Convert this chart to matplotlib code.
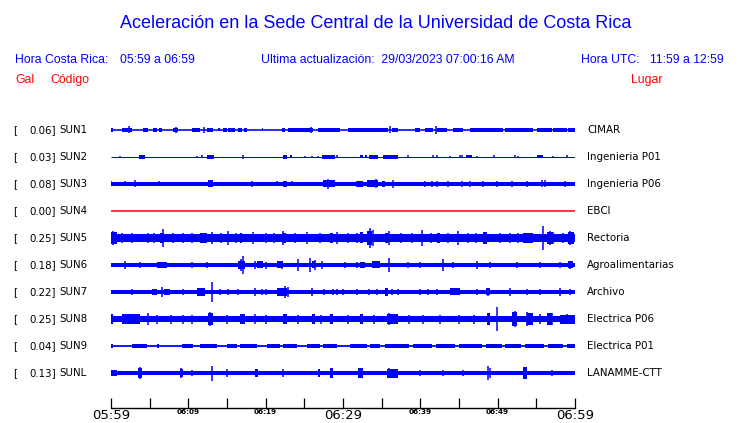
import matplotlib
matplotlib.use('Agg')
import matplotlib.pyplot as plt

# station info
gal = ['0.06', '0.03', '0.08', '0.00', '0.25', '0.18', '0.22', '0.25', '0.04', '0.13']
codes = ['SUN1', 'SUN2', 'SUN3', 'SUN4', 'SUN5', 'SUN6', 'SUN7', 'SUN8', 'SUN9', 'SUNL']
places = ['CIMAR', 'Ingenieria P01', 'Ingenieria P06', 'EBCI', 'Rectoria',
          'Agroalimentarias', 'Archivo', 'Electrica P06', 'Electrica P01', 'LANAMME-CTT']

# trace envelopes (time in minutes after 05:59)
# base = half width of the continuous noise band
base = [0.8, 0.5, 2.2, 0.0, 4.0, 2.3, 2.3, 3.3, 0.9, 2.3]

# blocks: (start, end, half amplitude)
blocks = [
    [(0.0, 0.2, 2), (1.4, 2.7, 2), (4.1, 4.8, 1.8), (5.4, 5.9, 1.8), (6.2, 6.6, 1.8),
     (8.0, 8.7, 2.2), (10.5, 11.5, 1.8), (12.4, 13.2, 1.8), (13.8, 14.1, 1.5),
     (14.5, 15.0, 1.8), (15.1, 16.0, 2), (16.4, 16.9, 2), (17.2, 17.6, 2),
     (19.5, 19.7, 1.5), (22.1, 22.5, 1.8), (22.9, 26.1, 2), (26.8, 29.6, 2),
     (30.6, 35.8, 2), (36.3, 37.1, 2), (39.3, 40.0, 1.8), (40.6, 41.6, 1.8),
     (42.2, 43.4, 1.8), (44.2, 45.5, 1.8), (46.4, 50.7, 2), (50.9, 54.6, 2),
     (55.1, 57.0, 2), (57.2, 59.0, 2), (59.1, 60.0, 2)],
    [(3.6, 4.4, 2.2), (12.4, 13.3, 2.2), (22.2, 22.8, 1.8), (23.1, 23.4, 1.5),
     (27.3, 29.0, 1.8), (32.2, 32.6, 1.5), (32.8, 33.1, 1.5), (33.4, 34.5, 1.8),
     (35.2, 37.1, 1.8), (45.9, 46.7, 1.5), (55.1, 55.9, 1.5)],
    [(12.5, 13.2, 3.5), (22.2, 22.8, 3), (27.4, 29.0, 3.5), (31.8, 32.6, 3),
     (33.1, 34.5, 3.5), (35.0, 35.4, 3)],
    [],
    [(0.0, 0.8, 6), (6.3, 6.9, 5), (11.5, 12.4, 5), (16.7, 17.0, 5), (22.2, 22.6, 5),
     (28.3, 28.7, 5), (32.2, 32.6, 5.5), (33.1, 33.8, 7), (35.4, 35.8, 5),
     (42.2, 42.6, 5), (48.1, 48.6, 6), (53.3, 54.6, 5), (56.4, 57.2, 6), (59.1, 59.9, 6)],
    [(5.9, 7.2, 3), (16.4, 17.3, 4), (18.9, 19.7, 3.5), (21.5, 22.2, 3.5),
     (26.0, 26.4, 3.5), (32.2, 32.8, 3), (33.8, 34.8, 3.5), (59.1, 59.7, 3.5)],
    [(5.3, 5.9, 3), (6.9, 7.6, 3), (11.1, 12.2, 4), (21.5, 22.8, 4), (35.4, 35.8, 4),
     (43.8, 45.1, 3.5), (48.5, 49.0, 3.5)],
    [(0.0, 0.3, 5), (1.4, 3.7, 5), (12.5, 13.2, 6), (16.7, 17.3, 5), (22.2, 22.8, 5),
     (26.0, 26.4, 5), (28.3, 28.7, 5), (32.2, 32.6, 5), (35.7, 37.1, 5),
     (48.6, 49.0, 6), (51.9, 52.5, 7), (53.8, 54.6, 6), (56.4, 57.0, 6), (58.0, 60.0, 4.5)],
    [(0.0, 0.3, 1.6), (2.7, 4.7, 1.6), (5.9, 6.2, 1.6), (9.2, 10.6, 1.6),
     (11.5, 13.7, 1.6), (15.0, 16.3, 1.6), (16.7, 18.9, 1.6), (20.2, 21.9, 1.6),
     (22.2, 24.1, 1.6), (25.3, 27.0, 1.6), (27.4, 29.2, 1.6), (30.9, 33.1, 1.6),
     (33.5, 34.8, 1.6), (35.4, 38.5, 1.6), (39.0, 41.5, 1.6), (42.0, 44.5, 1.6),
     (45.0, 48.0, 1.6), (48.5, 50.5, 1.6), (51.0, 53.0, 1.6), (53.5, 56.0, 1.6),
     (56.5, 58.5, 1.6), (59.0, 60.0, 1.6)],
    [(0.0, 0.8, 3), (3.5, 4.0, 5), (8.9, 9.3, 4), (18.6, 19.0, 4), (26.8, 27.0, 4),
     (28.3, 28.7, 5), (31.9, 32.6, 5), (35.7, 37.1, 4.5), (53.3, 53.8, 6)],
]

# spikes: (time, half amplitude)
spikes = [
    [(2.3, 3.5), (8.4, 3), (12.0, 3.0), (25.9, 2.8), (36.1, 3.5), (42.0, 4.0)],
    [(1.2, 1.2), (4.1, 1.2), (11.1, 1.2), (11.8, 1.5), (17.1, 1.8), (25.1, 1.2),
     (26.0, 1.2), (26.8, 1.2), (29.2, 1.5), (38.4, 1.5), (41.6, 1.5), (42.2, 1.5),
     (43.8, 1.2), (45.1, 1.5), (45.4, 1.5), (47.3, 1.2), (49.5, 1.5), (52.2, 1.5),
     (52.6, 1.2), (57.2, 1.2), (59.0, 1.5)],
    [(0.0, 2.5), (1.8, 2.5), (3.1, 3.5), (6.2, 2.5), (7.6, 2.2), (18.2, 3), (21.5, 2.5),
     (22.5, 3), (23.4, 2.5), (28.1, 5), (31.8, 3), (34.3, 4.5), (36.5, 4), (40.6, 3),
     (41.5, 3), (42.2, 3), (43.6, 3), (45.4, 3), (46.4, 3), (48.1, 3), (49.9, 3),
     (51.9, 3), (53.8, 3), (55.7, 3.5), (56.1, 3.5), (58.7, 3)],
    [],
    [(0.3, 7), (1.4, 5), (2.7, 5), (4.8, 5), (5.6, 5), (6.7, 9), (8.0, 5), (9.3, 5),
     (10.5, 5), (13.1, 6), (14.2, 5), (15.1, 7), (16.2, 5), (18.4, 6), (20.0, 5),
     (21.1, 5), (22.2, 7), (23.8, 5), (25.3, 6), (27.0, 5), (29.2, 6), (30.6, 5),
     (31.8, 5), (33.5, 10), (33.9, 8), (35.9, 7), (37.5, 5), (38.9, 5), (40.2, 8),
     (41.4, 5), (43.6, 5), (44.9, 7), (46.2, 5), (47.2, 5), (48.5, 6), (50.3, 5),
     (51.6, 5), (52.6, 5), (55.9, 12), (56.8, 7), (57.2, 6), (58.4, 5), (59.4, 7)],
    [(1.8, 4), (3.7, 3), (10.5, 2.8), (12.4, 3), (16.8, 6), (17.1, 9), (18.6, 4),
     (20.0, 3.5), (22.1, 4), (24.2, 6), (25.7, 7), (26.4, 5), (27.3, 4), (30.3, 3),
     (31.8, 3), (35.9, 7), (38.4, 3), (40.0, 3), (42.9, 6), (44.2, 3), (47.3, 4),
     (49.0, 3), (52.5, 3), (55.5, 3), (58.1, 3), (59.4, 4)],
    [(2.7, 3), (6.6, 5), (9.3, 3), (13.1, 10), (14.1, 3), (15.1, 3), (16.4, 3),
     (18.6, 4), (19.5, 3), (20.0, 3), (22.5, 6), (22.9, 5), (26.0, 4), (27.5, 3),
     (28.7, 3), (29.2, 3), (30.0, 3), (31.8, 3), (33.4, 3), (34.4, 3), (36.3, 3),
     (37.1, 3), (40.0, 3), (41.0, 3), (42.2, 3), (47.3, 3), (48.7, 4), (51.6, 4),
     (53.8, 3), (55.5, 3), (58.1, 4), (59.4, 3)],
    [(4.8, 6), (6.0, 4.5), (7.7, 4.5), (9.3, 4.5), (10.5, 4.5), (12.8, 7), (15.0, 4.5),
     (18.6, 5), (20.0, 4.5), (24.2, 4.5), (27.2, 4.5), (30.6, 4.5), (34.0, 4.5),
     (35.9, 6), (38.5, 4.5), (40.4, 4.5), (42.5, 4.5), (45.0, 4.5), (47.0, 4.5),
     (49.9, 12), (52.2, 8), (53.8, 7), (55.5, 5), (57.0, 6), (59.0, 5)],
    [],
    [(3.7, 6), (9.1, 5), (10.5, 3), (13.1, 7.5), (15.0, 4), (22.2, 4), (26.9, 4),
     (28.5, 5), (32.2, 5), (35.9, 5), (37.0, 4), (40.0, 3), (42.9, 3), (45.5, 3),
     (48.7, 7), (49.0, 5), (53.5, 6), (57.0, 3)],
]

tick_minutes = list(range(0, 61, 5))
tick_labels = ['05:59', '', '06:09', '', '06:19', '', '06:29', '', '06:39', '', '06:49', '', '06:59']
big_labels = ['05:59', '06:29', '06:59']

blue = '#0000ff'
red = '#ff0000'
row_step = 27.0
row_top = 12.0

W, H = 740, 423
fig = plt.figure(figsize=(W / 100, H / 100), dpi=100)
ax = fig.add_axes([111 / W, (H - 408) / H, 464 / W, 290 / H])
ax.set_xlim(0, 60)
ax.set_ylim(290, 0)

for i in range(len(codes)):
    yc = row_top + row_step * i
    # a dead channel (no signal at all) is drawn as a flat red line
    if base[i] == 0 and not blocks[i] and not spikes[i]:
        ax.hlines(yc, 0, 60, color=red, linewidth=1.1)
        continue
    if base[i] < 1.0:
        ax.hlines(yc, 0, 60, color=blue, linewidth=max(2 * base[i], 1.0) * 0.72)
    else:
        ax.fill_between([0, 60], yc - base[i], yc + base[i], color=blue, linewidth=0)
    for t0, t1, a in blocks[i]:
        ax.fill_between([t0, t1], yc - a, yc + a, color=blue, linewidth=0)
    for t, a in spikes[i]:
        ax.vlines(t, yc - a, yc + a, color=blue, linewidth=1.1)

for i in range(len(codes)):
    # labels on both sides
    ty = 1 - (row_top + row_step * i + 118) / H
    fig.text(13 / W, ty, '[', fontsize=7.4, va='center', ha='left')
    fig.text(56 / W, ty, gal[i] + ']', fontsize=7.4, va='center', ha='right')
    fig.text(59 / W, ty, codes[i], fontsize=7.4, va='center', ha='left')
    fig.text(587 / W, ty, places[i], fontsize=7.4, va='center', ha='left')

for s in ['top', 'left', 'right']:
    ax.spines[s].set_visible(False)
ax.spines['bottom'].set_linewidth(1.0)
ax.set_yticks([])
ax.set_xticks(tick_minutes)
ax.set_xticklabels(tick_labels)
ax.tick_params(axis='x', direction='in', length=7.5, width=0.9, pad=1)
for lbl in ax.get_xticklabels():
    if lbl.get_text() in big_labels:
        lbl.set_fontsize(9.5)
    else:
        lbl.set_fontsize(5.2)
        lbl.set_fontweight('bold')

# header texts
hdr = 'Liberation Sans'
hs = 8.8
fig.text(376 / W, 1 - 23 / H, 'Aceleración en la Sede Central de la Universidad de Costa Rica',
         color=blue, fontsize=13, family=hdr, ha='center', va='center')
fig.text(15 / W, 1 - 60 / H, 'Hora Costa Rica:', color=blue, fontsize=hs,
         family=hdr, ha='left', va='center')
fig.text(120 / W, 1 - 60 / H, '05:59 a 06:59', color=blue, fontsize=hs,
         family=hdr, ha='left', va='center')
fig.text(261 / W, 1 - 60 / H, 'Ultima actualización:  29/03/2023 07:00:16 AM', color=blue,
         fontsize=hs, family=hdr, ha='left', va='center')
fig.text(581 / W, 1 - 60 / H, 'Hora UTC:', color=blue, fontsize=hs,
         family=hdr, ha='left', va='center')
fig.text(724 / W, 1 - 60 / H, '11:59 a 12:59', color=blue, fontsize=hs,
         family=hdr, ha='right', va='center')
fig.text(15 / W, 1 - 80 / H, 'Gal', color=red, fontsize=hs, family=hdr, ha='left', va='center')
fig.text(50 / W, 1 - 80 / H, 'Código', color=red, fontsize=hs, family=hdr, ha='left', va='center')
fig.text(662 / W, 1 - 80 / H, 'Lugar', color=red, fontsize=hs, family=hdr, ha='right', va='center')

fig.savefig('out.png', dpi=100)
